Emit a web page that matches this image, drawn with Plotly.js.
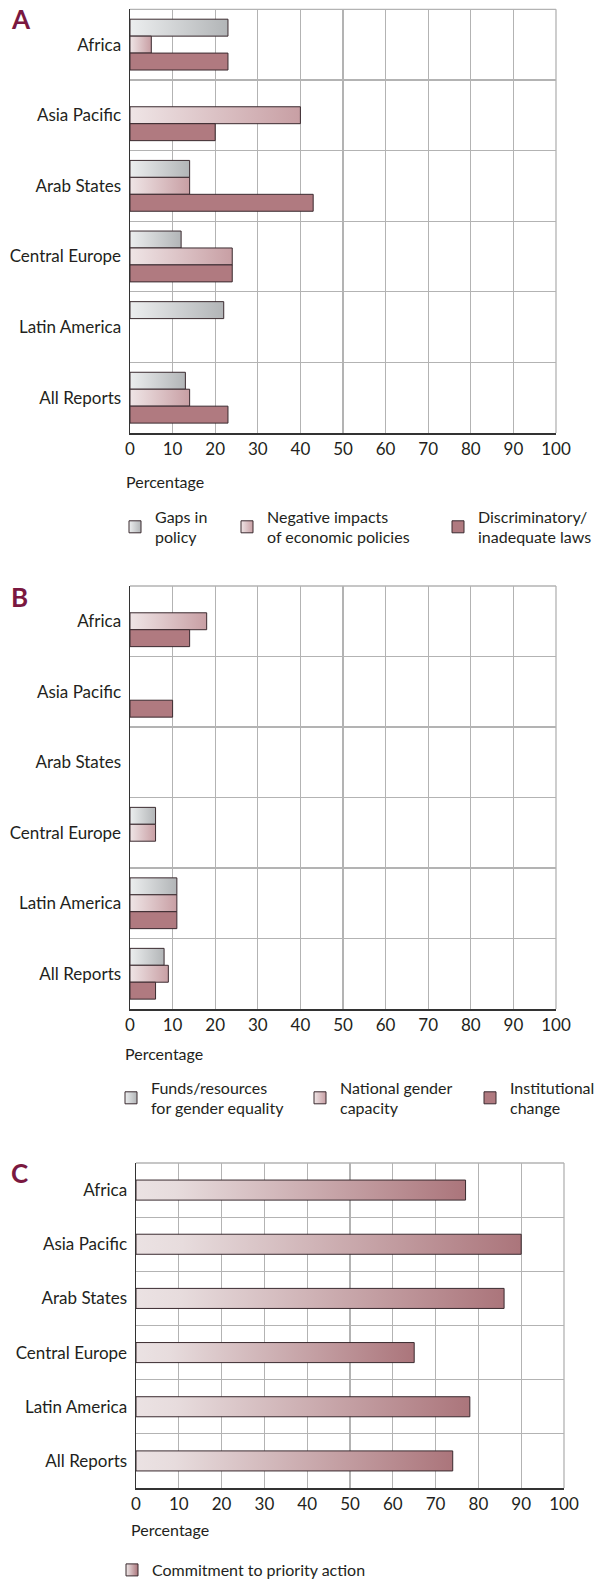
<!DOCTYPE html>
<html><head><meta charset="utf-8">
<script src="https://cdn.plot.ly/plotly-3.0.1.min.js"></script>
<style>html,body{margin:0;padding:0;background:#fff}</style>
</head><body><div id="chart" style="width:595px;height:1580px"></div>
<script>
// ---- data ----
const regions = ['Africa', 'Asia Pacific', 'Arab States', 'Central Europe', 'Latin America', 'All Reports'];
const aGaps = [23, 0, 14, 12, 22, 13];
const aNegative = [5, 40, 14, 24, 0, 14];
const aLaws = [23, 20, 43, 24, 0, 23];
const bFunds = [0, 0, 0, 6, 11, 8];
const bCapacity = [18, 0, 0, 6, 11, 9];
const bInstitutional = [14, 10, 0, 0, 11, 6];
const cCommitment = [77, 90, 86, 65, 78, 74];
const xTickVals = [0, 10, 20, 30, 40, 50, 60, 70, 80, 90, 100];
const namesA = ['Gaps in<br>policy', 'Negative impacts<br>of economic policies', 'Discriminatory/<br>inadequate laws'];
const namesB = ['Funds/resources<br>for gender equality', 'National gender<br>capacity', 'Institutional<br>change'];
const nameC = 'Commitment to priority action';
const panelLetters = ['A', 'B', 'C'];
const axisTitle = 'Percentage';

// ---- style ----
const W = 595, H = 1580;
const FONT = 'Lato, Noto Sans, sans-serif';
const TXT = '#231f20';
const KEY_GRAY = 'rgb(201, 203, 205)';
const KEY_PINK = 'rgb(220, 194, 197)';
const KEY_C = 'rgb(205, 170, 174)';
const RED = 'rgb(176, 122, 128)';
const OUTLINE = {color: '#3a2a2f', width: 1};
const gradients = [
  {key: KEY_GRAY, id: 'gGray', stops: [[0, '#eceeef'], [1, '#b2b5b7']]},
  {key: KEY_PINK, id: 'gPink', stops: [[0, '#efe5e6'], [1, '#c89fa4']]},
  {key: KEY_C, id: 'gC', stops: [[0, '#ebe2e3'], [0.12, '#e7dcdd'], [1, '#ab757b']]}
];
const fx = px => px / W;
const fy = px => 1 - px / H;
// a 0% value draws no bar (as in the original), so skip zero-width outlines
const shown = arr => arr.map(v => (v === 0 ? null : v));

function bar(x, color, name, xa, ya, legend, extra) {
  return Object.assign({
    type: 'bar', orientation: 'h', x: shown(x), y: regions, name: name,
    xaxis: xa, yaxis: ya, legend: legend, showlegend: true,
    marker: {color: color, line: OUTLINE},
    hoverinfo: 'skip'
  }, extra || {});
}

const data = [
  bar(aGaps, KEY_GRAY, namesA[0], 'x', 'y', 'legend'),
  bar(aNegative, KEY_PINK, namesA[1], 'x', 'y', 'legend2'),
  bar(aLaws, RED, namesA[2], 'x', 'y', 'legend3'),
  bar(bFunds, KEY_GRAY, namesB[0], 'x2', 'y2', 'legend4'),
  bar(bCapacity, KEY_PINK, namesB[1], 'x2', 'y2', 'legend5'),
  bar(bInstitutional, RED, namesB[2], 'x2', 'y2', 'legend6'),
  bar(cCommitment, KEY_C, nameC, 'x3', 'y3', 'legend7', {width: 0.37})
];

function xaxis(dom, anchor) {
  return {
    domain: dom, anchor: anchor, range: [0, 100], tickvals: xTickVals,
    showgrid: true, gridcolor: '#b3b3b3', gridwidth: 1.3,
    showline: true, linecolor: '#333', linewidth: 1.5, zeroline: false,
    ticks: '', tickfont: {family: FONT, size: 17, color: TXT}, fixedrange: true
  };
}
function yaxis(dom, anchor) {
  return {
    domain: dom, anchor: anchor, type: 'category', autorange: false, range: [5.5, -0.5],
    tickson: 'boundaries', showgrid: true, gridcolor: '#b3b3b3', gridwidth: 1.3,
    showline: true, linecolor: '#333', linewidth: 1.5, zeroline: false,
    ticks: '', ticklabelstandoff: 4, tickfont: {family: FONT, size: 17, color: TXT}, fixedrange: true
  };
}
function legend(xpx, ypx) {
  return {
    x: fx(xpx), y: fy(ypx), xanchor: 'left', yanchor: 'middle', visible: true,
    orientation: 'h', bgcolor: 'rgba(0,0,0,0)', borderwidth: 0,
    font: {family: FONT, size: 16, color: TXT}, valign: 'middle', itemclick: false
  };
}
function border(xa, ya) {
  const l = {color: '#b3b3b3', width: 1.3};
  return [
    {type: 'line', xref: xa + ' domain', yref: ya + ' domain', x0: 0, x1: 1, y0: 1, y1: 1, line: l, layer: 'below'},
    {type: 'line', xref: xa + ' domain', yref: ya + ' domain', x0: 1, x1: 1, y0: 0, y1: 1, line: l, layer: 'below'}
  ];
}
function letter(t, ypx) {
  return {text: '<b>' + t + '</b>', xref: 'paper', yref: 'paper', x: fx(9), y: fy(ypx),
    xanchor: 'left', yanchor: 'middle', showarrow: false,
    font: {family: FONT, size: 26, color: '#7a1840'}};
}
function pct(xpx, ypx) {
  return {text: axisTitle, xref: 'paper', yref: 'paper', x: fx(xpx), y: fy(ypx),
    xanchor: 'left', yanchor: 'middle', showarrow: false,
    font: {family: FONT, size: 16, color: TXT}};
}

const layout = {
  width: W, height: H, margin: {l: 0, r: 0, t: 0, b: 0, autoexpand: false},
  paper_bgcolor: '#fff', plot_bgcolor: '#fff', showlegend: true,
  barmode: 'group', bargap: 0.28, bargroupgap: 0,
  font: {family: FONT, color: TXT},
  xaxis: xaxis([fx(130), fx(556)], 'y'),
  yaxis: yaxis([fy(433), fy(9.3)], 'x'),
  xaxis2: xaxis([fx(130), fx(556)], 'y2'),
  yaxis2: yaxis([fy(1009), fy(586)], 'x2'),
  xaxis3: xaxis([fx(136), fx(564)], 'y3'),
  yaxis3: yaxis([fy(1488), fy(1163)], 'x3'),
  legend: legend(115, 527),
  legend2: legend(227, 527),
  legend3: legend(438, 527),
  legend4: legend(111, 1098),
  legend5: legend(300, 1098),
  legend6: legend(470, 1098),
  legend7: legend(112, 1570),
  shapes: [].concat(border('x', 'y'), border('x2', 'y2'), border('x3', 'y3')),
  annotations: [
    letter(panelLetters[0], 19), letter(panelLetters[1], 597), letter(panelLetters[2], 1173),
    pct(124, 481), pct(123, 1053), pct(129, 1529)
  ]
};

Plotly.newPlot('chart', data, layout, {staticPlot: true, displayModeBar: false}).then(gd => {
  const ns = 'http://www.w3.org/2000/svg';
  const svg = gd.querySelector('svg.main-svg');
  let defs = svg.querySelector('defs');
  if (!defs) { defs = document.createElementNS(ns, 'defs'); svg.insertBefore(defs, svg.firstChild); }
  const map = {};
  gradients.forEach(g => {
    const lg = document.createElementNS(ns, 'linearGradient');
    lg.setAttribute('id', g.id);
    lg.setAttribute('x1', '0'); lg.setAttribute('y1', '0');
    lg.setAttribute('x2', '1'); lg.setAttribute('y2', '0');
    g.stops.forEach(s => {
      const st = document.createElementNS(ns, 'stop');
      st.setAttribute('offset', s[0]);
      st.setAttribute('stop-color', s[1]);
      lg.appendChild(st);
    });
    defs.appendChild(lg);
    map[g.key.replace(/\s/g, '')] = g.id;
  });
  gd.querySelectorAll('path.legendbar').forEach(p => p.setAttribute('d', 'M7.5,7.5H-7.5V-7.5H7.5Z'));
  gd.querySelectorAll('path').forEach(p => {
    const f = (p.style.fill || '').replace(/\s/g, '');
    if (map[f]) p.style.fill = 'url(#' + map[f] + ')';
  });
});
</script>
</body></html>
